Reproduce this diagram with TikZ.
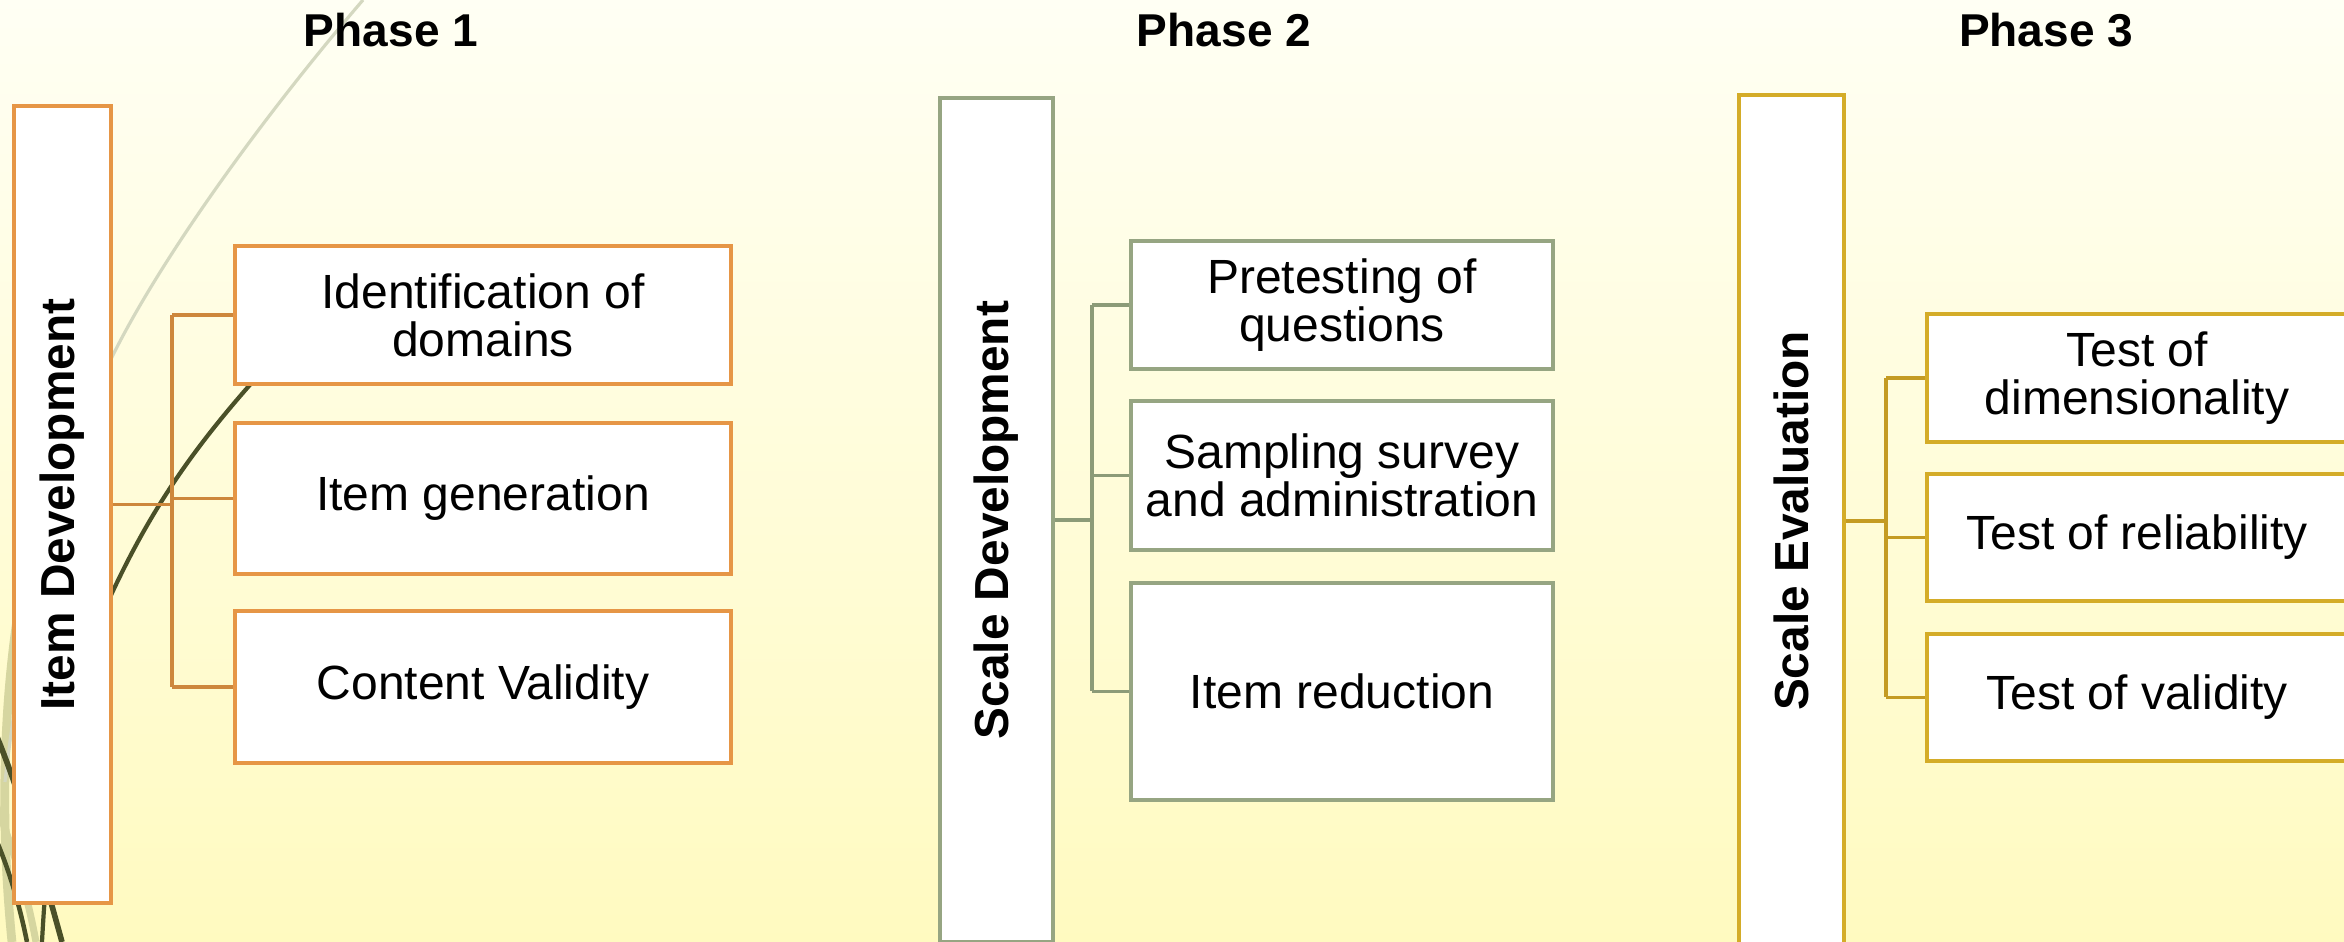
\documentclass[tikz,border=0pt]{standalone}
\usepackage{fontspec}
\setmainfont{Liberation Sans}
\usepackage{graphicx}

\definecolor{bgtop}{RGB}{255,255,244}
\definecolor{bgbot}{RGB}{255,250,192}
\definecolor{wispdark}{RGB}{74,80,40}
\definecolor{wisppale}{RGB}{212,216,192}
\definecolor{wispkhaki}{RGB}{214,214,160}
\definecolor{phaseone}{RGB}{230,150,70}
\definecolor{phaseoneln}{RGB}{205,135,60}
\definecolor{phasetwo}{RGB}{150,165,130}
\definecolor{phasetwoln}{RGB}{140,155,120}
\definecolor{phasethree}{RGB}{212,172,40}
\definecolor{phasethreeln}{RGB}{196,155,35}

\newcommand{\stagelabel}[1]{\rotatebox{90}{\bfseries #1}}

\begin{document}
\begin{tikzpicture}

	\tikzset{phase/.style={font=\fontsize{13.1}{13.1}\selectfont\bfseries}}
	\tikzset{stagebox/.style={draw, fill=white, line width=0.9pt, inner sep=0pt, font=\fontsize{13.6}{13.6}\selectfont}}
	\tikzset{task/.style={draw, fill=white, line width=0.9pt, inner sep=0pt, align=center, font=\fontsize{13.66}{13.66}\selectfont}}
	\tikzset{link/.style={line width=0.9pt}}

	\useasboundingbox (0,0) rectangle (23.44,9.42);
	\shade[top color=bgtop, bottom color=bgbot] (0,0) rectangle (23.44,9.42);

	% wisps
	\draw[wispkhaki, line width=2.5pt] (0.12,0) .. controls (0.0,1.2) and (0.02,2.5) .. (0.25,3.7);
	\draw[wispkhaki, line width=2pt] (0.36,0) .. controls (0.25,0.6) and (0.1,1.0) .. (-0.05,1.4);
	\draw[wisppale, line width=0.9pt] (0.05,1.6) .. controls (0.3,3.8) and (0.8,5.2) .. (1.12,5.85) .. controls (1.6,6.82) and (2.6,8.22) .. (3.63,9.42);
	\draw[wispdark, line width=1.3pt] (0.27,0) .. controls (0.2,0.35) and (0.1,0.7) .. (-0.05,1.05);
	\draw[wispdark, line width=1.6pt] (0.62,0) .. controls (0.4,0.8) and (0.2,1.5) .. (-0.05,2.1);
	\draw[wispdark, line width=1.2pt] (0.42,0) .. controls (0.5,1.5) and (0.7,2.6) .. (1.12,3.49) .. controls (1.5,4.3) and (1.9,4.9) .. (2.56,5.64);

	\node[phase] (ph1) at (3.91,9.12) {Phase 1};
	\node[phase] (ph2) at (12.24,9.12) {Phase 2};
	\node[phase] (ph3) at (20.46,9.12) {Phase 3};

	% phase 1
	\node[stagebox, draw=phaseone, minimum width=0.97cm, minimum height=7.97cm] (idev) at (0.625,4.375) {\stagelabel{Item Development}};
	\node[task, draw=phaseone, minimum width=4.96cm, minimum height=1.38cm] (dom) at (4.83,6.27) {Identification of\\domains};
	\node[task, draw=phaseone, minimum width=4.96cm, minimum height=1.51cm] (gen) at (4.83,4.435) {Item generation};
	\node[task, draw=phaseone, minimum width=4.96cm, minimum height=1.52cm] (cval) at (4.83,2.55) {Content Validity};

	\coordinate (bus1) at (1.72,0);
	\draw[link, phaseoneln] (idev.east) -- (idev.east -| bus1);
	\draw[link, phaseoneln] (bus1 |- dom.west) -- (bus1 |- cval.west);
	\foreach \c in {dom,gen,cval}
		\draw[link, phaseoneln] (bus1 |- \c.west) -- (\c.west);

	% phase 2
	\node[stagebox, draw=phasetwo, minimum width=1.13cm, minimum height=8.44cm] (sdev) at (9.965,4.22) {\stagelabel{Scale Development}};
	\node[task, draw=phasetwo, minimum width=4.22cm, minimum height=1.28cm] (pretest) at (13.42,6.37) {Pretesting of\\questions};
	\node[task, draw=phasetwo, minimum width=4.22cm, minimum height=1.49cm] (survey) at (13.42,4.665) {Sampling survey\\and administration};
	\node[task, draw=phasetwo, minimum width=4.22cm, minimum height=2.17cm] (reduce) at (13.42,2.505) {Item reduction};

	\coordinate (bus2) at (10.92,0);
	\draw[link, phasetwoln] (sdev.east) -- (sdev.east -| bus2);
	\draw[link, phasetwoln] (bus2 |- pretest.west) -- (bus2 |- reduce.west);
	\foreach \c in {pretest,survey,reduce}
		\draw[link, phasetwoln] (bus2 |- \c.west) -- (\c.west);

	% phase 3
	\node[stagebox, draw=phasethree, minimum width=1.05cm, minimum height=8.52cm] (seval) at (17.915,4.21) {\stagelabel{Scale Evaluation}};
	\node[task, draw=phasethree, minimum width=4.20cm, minimum height=1.28cm] (dim) at (21.37,5.64) {Test of\\dimensionality};
	\node[task, draw=phasethree, minimum width=4.20cm, minimum height=1.27cm] (rel) at (21.37,4.045) {Test of reliability};
	\node[task, draw=phasethree, minimum width=4.20cm, minimum height=1.27cm] (tval) at (21.37,2.445) {Test of validity};

	\coordinate (bus3) at (18.86,0);
	\draw[link, phasethreeln] (seval.east) -- (seval.east -| bus3);
	\draw[link, phasethreeln] (bus3 |- dim.west) -- (bus3 |- tval.west);
	\foreach \c in {dim,rel,tval}
		\draw[link, phasethreeln] (bus3 |- \c.west) -- (\c.west);

\end{tikzpicture}
\end{document}
